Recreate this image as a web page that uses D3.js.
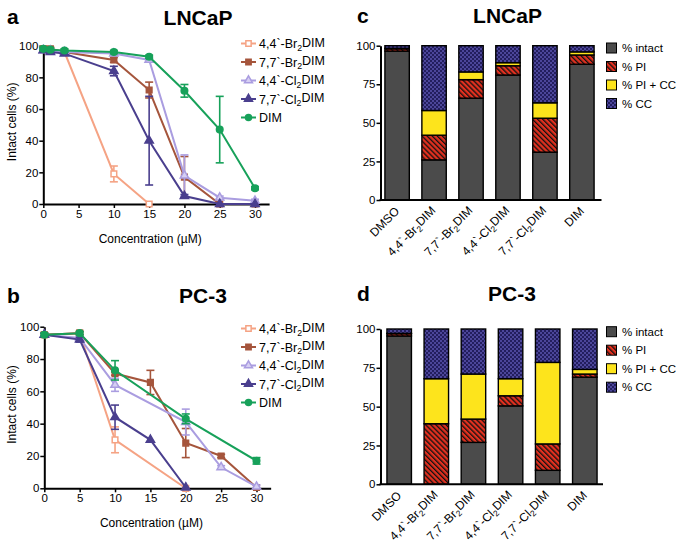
<!DOCTYPE html>
<html><head><meta charset="utf-8">
<script src="https://cdn.jsdelivr.net/npm/d3@7"></script>
<style>
body{margin:0;background:#fff}
svg{display:block}
text{font-family:"Liberation Sans",Arial,Helvetica,sans-serif;fill:#000}
</style>
</head><body>
<svg id="chart" width="679" height="544"></svg>
<script>
// ---------- DATA ----------
const seriesNames = ["4,4`-Br_2DIM","7,7`-Br_2DIM","4,4`-Cl_2DIM","7,7`-Cl_2DIM","DIM"];
const seriesColors = ["#f5a384","#a5553c","#aa9de0","#4a3f8e","#17a15a"];
const seriesMarkers = ["squareOpen","square","triangleOpen","triangle","circle"];

// Panel a: LNCaP
const concA = [0,1,3,10,15,20,25,30];
const aBr44 = [98,97,96,19,0,null,null,null];
const aBr44Err = [1,1,1,5,0,0,0,0];
const aBr77 = [98,98,96,91,72,17,0,0];
const aBr77Err = [1,1,1,1.5,5,13,0,0];
const aCl44 = [97,97,96,95,91,18,4,2];
const aCl44Err = [1,1,1,1,1,13,1,1];
const aCl77 = [97,96,95,84,40,5,0,0];
const aCl77Err = [1,1,1,3,28,1,0,0];
const aDim = [98,97.5,97,96,93,71.5,47,10];
const aDimErr = [1,1,1,1,1,4,21,1];

// Panel b: PC-3
const concB = [0,5,10,15,20,25,30];
const bBr44 = [95,96,30,null,0,null,null];
const bBr44Err = [1,1,8,0,0,0,0];
const bBr77 = [95,96,71,65.5,28,20,0.5];
const bBr77Err = [1,1,1,7.5,9,1,0];
const bCl44 = [95,93,64,null,41,13,1];
const bCl44Err = [1,1,4,0,8,1,1];
const bCl77 = [95,92,44,30,0.5,null,null];
const bCl77Err = [1,1.5,7.5,0,0,0,0];
const bDim = [95,96,73,null,43,null,17];
const bDimErr = [1,1,6,0,3,0,2];

const yTicksLine = [0,20,40,60,80,100];
const xTicksLine = [0,5,10,15,20,25,30];

// Panels c, d: stacked bars
const barCats = ["DMSO","4,4`-Br_2DIM","7,7`-Br_2DIM","4,4`-Cl_2DIM","7,7`-Cl_2DIM","DIM"];
const barKeys = ["intact","pi","picc","cc"];
const barLegend = ["% intact","% PI","% PI + CC","% CC"];
const cIntact = [96.5,26,66,81,31,88];
const cPI     = [1.5,16,12,6,22,6];
const cPICC   = [0.3,16,5,2,10,2];
const cCC     = [1.7,42,17,11,37,4];
const dIntact = [95.5,0,27,50.5,9,69];
const dPI     = [1.5,39,15,6.5,17,2];
const dPICC   = [0.2,29,29,11,52.5,3];
const dCC     = [2.8,32,29,32,21.5,26];
const yTicksBar = [0,25,50,75,100];

// ---------- HELPERS ----------
const svg = d3.select("#chart");
const FONT_TICK = 11.5;

function richText(sel, label){
  const parts = label.split("_");
  if(parts.length===1){ sel.text(label); return; }
  sel.append("tspan").text(parts[0]);
  sel.append("tspan").attr("font-size","0.7em").attr("dy","0.3em").text(parts[1].charAt(0));
  sel.append("tspan").attr("dy","-0.3em").text(parts[1].slice(1));
}

const defs = svg.append("defs");
const hatch = defs.append("pattern").attr("id","hatch").attr("patternUnits","userSpaceOnUse")
  .attr("width",3.6).attr("height",3.6).attr("patternTransform","rotate(-45)");
hatch.append("rect").attr("width",3.6).attr("height",3.6).attr("fill","#e2301f");
hatch.append("rect").attr("x",0).attr("width",1.3).attr("height",3.6).attr("fill","#111");
const checker = defs.append("pattern").attr("id","checker").attr("patternUnits","userSpaceOnUse")
  .attr("width",4).attr("height",4);
checker.append("rect").attr("width",4).attr("height",4).attr("fill","#231e5e");
checker.append("rect").attr("width",2).attr("height",2).attr("fill","#4c469a");
checker.append("rect").attr("x",2).attr("y",2).attr("width",2).attr("height",2).attr("fill","#4c469a");
const barFills = ["#4b4b4b","url(#hatch)","#fde41c","url(#checker)"];

function marker(g, type, color, x, y, size){
  let sym, fill;
  if(type.startsWith("square")) sym = d3.symbolSquare;
  else if(type.startsWith("triangle")) sym = d3.symbolTriangle;
  else sym = d3.symbolCircle;
  const s = size || (type.startsWith("triangle") ? 30 : type.startsWith("square") ? 32 : 34);
  fill = type.endsWith("Open") ? (type.startsWith("triangle") ? "#d6cff3" : "#fff") : color;
  g.append("path").attr("d", d3.symbol(sym, s)()).attr("transform",`translate(${x},${y})`)
    .attr("fill",fill).attr("stroke",color).attr("stroke-width",1.5);
}

function styleAxis(g){
  g.selectAll(".domain").attr("stroke","#000").attr("stroke-width",2);
  g.selectAll(".tick line").attr("stroke","#000").attr("stroke-width",1.5);
  g.selectAll(".tick text").attr("font-size",FONT_TICK).attr("fill","#000")
    .attr("font-family","'Liberation Sans',Arial,sans-serif");
}

// ---------- LINE PANELS ----------
function linePanel(cfg){
  const {x0,x30,y0,y100,conc,vals,errs,letter,title,titleX,titleY,letterY,labelY,legendY} = cfg;
  const x = d3.scaleLinear().domain([0,32]).range([x0, x0+(x30-x0)*32/30]);
  const y = d3.scaleLinear().domain([0,100]).range([y0,y100]);
  const g = svg.append("g");
  const ax = g.append("g").attr("transform",`translate(0,${y0})`)
    .call(d3.axisBottom(x).tickValues(xTicksLine).tickSize(4).tickPadding(2).tickSizeOuter(0));
  styleAxis(ax);
  const ay = g.append("g").attr("transform",`translate(${x0},0)`)
    .call(d3.axisLeft(y).tickValues(yTicksLine).tickSize(4).tickPadding(1).tickSizeOuter(0));
  styleAxis(ay);
  vals.forEach((v,si)=>{
    const pts = conc.map((c,i)=>({c, v:v[i], e:errs[si][i]})).filter(d=>d.v!=null);
    const col = seriesColors[si];
    const sg = g.append("g");
    sg.append("path").datum(pts)
      .attr("d", d3.line().x(d=>x(d.c)).y(d=>y(d.v)))
      .attr("fill","none").attr("stroke",col).attr("stroke-width",2);
    pts.filter(d=>d.e>0).forEach(d=>{
      const yt = y(Math.min(100,d.v+d.e)), yb = y(Math.max(0,d.v-d.e)), xc = x(d.c);
      sg.append("line").attr("x1",xc).attr("x2",xc).attr("y1",yt).attr("y2",yb).attr("stroke",col).attr("stroke-width",1.6);
      [yt,yb].forEach(yy=>sg.append("line").attr("x1",xc-4).attr("x2",xc+4).attr("y1",yy).attr("y2",yy).attr("stroke",col).attr("stroke-width",1.6));
    });
    pts.forEach(d=>marker(sg, seriesMarkers[si], col, x(d.c), y(d.v)));
  });
  seriesNames.forEach((n,si)=>{
    const ly = legendY + si*18.5;
    const col = seriesColors[si];
    g.append("line").attr("x1",241).attr("x2",256).attr("y1",ly).attr("y2",ly).attr("stroke",col).attr("stroke-width",2);
    marker(g, seriesMarkers[si], col, 248.5, ly, 28);
    const t = g.append("text").attr("x",259).attr("y",ly+4.5).attr("font-size",12.5);
    richText(t, n);
  });
  svg.append("text").attr("x",7).attr("y",letterY).attr("font-size",21).attr("font-weight","bold").text(letter);
  svg.append("text").attr("x",titleX).attr("y",titleY).attr("text-anchor","middle").attr("font-size",21).attr("font-weight","bold").text(title);
  svg.append("text").attr("x",(x0+x30)/2+1).attr("y",labelY).attr("text-anchor","middle").attr("font-size",12).text("Concentration (µM)");
  svg.append("text").attr("transform",`translate(16,${(y0+y100)/2-3}) rotate(-90)`).attr("text-anchor","middle").attr("font-size",12).text("Intact cells (%)");
}

linePanel({x0:43.3,x30:255,y0:204,y100:45.7,conc:concA,
  vals:[aBr44,aBr77,aCl44,aCl77,aDim], errs:[aBr44Err,aBr77Err,aCl44Err,aCl77Err,aDimErr],
  letter:"a", title:"LNCaP", titleX:198, titleY:25, letterY:24, labelY:243, legendY:43.5});
linePanel({x0:44.3,x30:256.5,y0:488.3,y100:326.7,conc:concB,
  vals:[bBr44,bBr77,bCl44,bCl77,bDim], errs:[bBr44Err,bBr77Err,bCl44Err,bCl77Err,bDimErr],
  letter:"b", title:"PC-3", titleX:203, titleY:303, letterY:303, labelY:527, legendY:328.5});

// ---------- BAR PANELS ----------
function barPanel(cfg){
  const {xr,axisEnd,y0,y100,series,letter,letterY,title,titleX,titleY,legendY} = cfg;
  const x = d3.scaleBand().domain(barCats).range(xr).paddingInner(0.34).paddingOuter(0.16);
  const y = d3.scaleLinear().domain([0,100]).range([y0,y100]);
  const rows = barCats.map((c,i)=>{
    const r = {cat:c};
    barKeys.forEach((k,ki)=>r[k]=series[ki][i]);
    return r;
  });
  const stack = d3.stack().keys(barKeys)(rows);
  const g = svg.append("g");
  stack.forEach((layer,li)=>{
    g.append("g").selectAll("rect").data(layer).join("rect")
      .attr("x",d=>x(d.data.cat)).attr("width",x.bandwidth())
      .attr("y",d=>y(d[1])).attr("height",d=>Math.max(0,y(d[0])-y(d[1])))
      .attr("fill",barFills[li]).attr("stroke","#000").attr("stroke-width",1.4);
  });
  const ay = g.append("g").attr("transform",`translate(380.5,0)`)
    .call(d3.axisLeft(y).tickValues(yTicksBar).tickSize(4).tickPadding(1).tickSizeOuter(0));
  styleAxis(ay);
  g.append("line").attr("x1",379.5).attr("x2",axisEnd).attr("y1",y0).attr("y2",y0).attr("stroke","#000").attr("stroke-width",2);
  barCats.forEach(c=>{
    const cx = x(c)+x.bandwidth()/2;
    const t = g.append("text").attr("transform",`translate(${cx+3},${y0+12}) rotate(-45)`)
      .attr("text-anchor","end").attr("font-size",12);
    richText(t,c);
  });
  barLegend.forEach((n,i)=>{
    const ly = legendY + i*18.5;
    g.append("rect").attr("x",606.5).attr("y",ly-5).attr("width",10).attr("height",10)
      .attr("fill",barFills[i]).attr("stroke","#000").attr("stroke-width",1);
    g.append("text").attr("x",622).attr("y",ly+4).attr("font-size",11.5).text(n);
  });
  svg.append("text").attr("x",357).attr("y",letterY).attr("font-size",21).attr("font-weight","bold").text(letter);
  svg.append("text").attr("x",titleX).attr("y",titleY).attr("text-anchor","middle").attr("font-size",21).attr("font-weight","bold").text(title);
}

barPanel({xr:[379,600],axisEnd:601.5,y0:200,y100:45.7,series:[cIntact,cPI,cPICC,cCC],
  letter:"c", letterY:23, title:"LNCaP", titleX:507.5, titleY:23, legendY:48});
barPanel({xr:[381,603],axisEnd:603,y0:484.3,y100:329,series:[dIntact,dPI,dPICC,dCC],
  letter:"d", letterY:300.5, title:"PC-3", titleX:512, titleY:300.5, legendY:331.7});
</script>
</body></html>
